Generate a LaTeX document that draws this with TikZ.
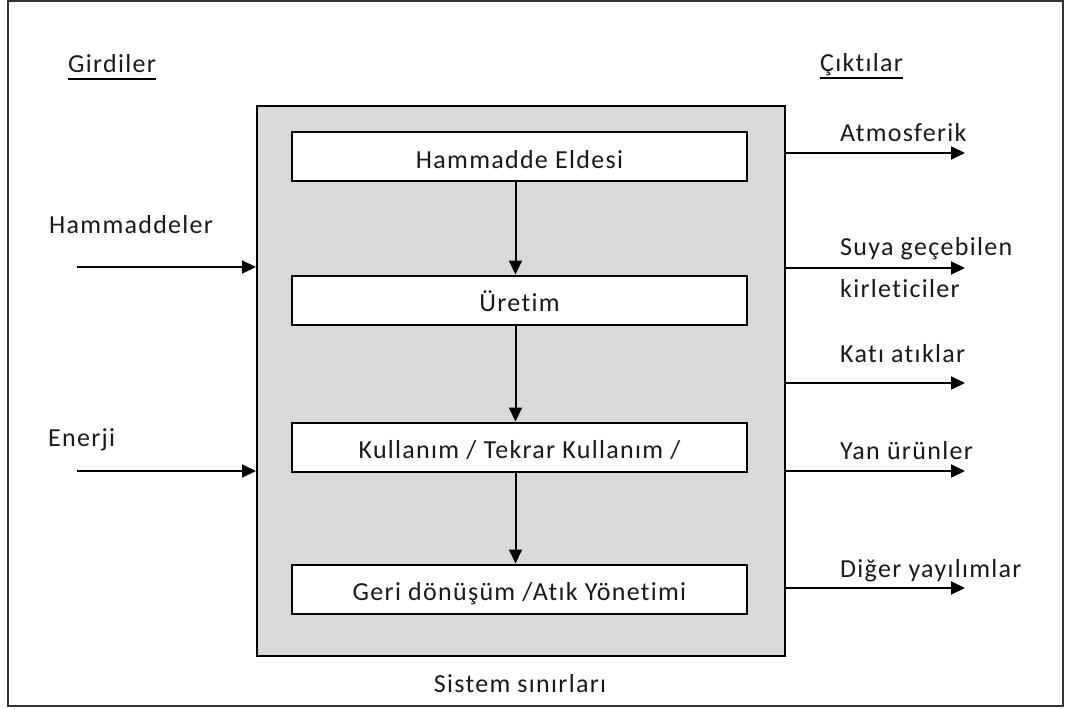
\documentclass[tikz,border=0pt]{standalone}
\usepackage{fontspec}
\setmainfont{Carlito}[LetterSpace=5,Ligatures={NoCommon}]
\usetikzlibrary{arrows.meta}
\begin{document}
\begin{tikzpicture}[x=1pt,y=-1pt,
  every node/.style={font=\fontsize{26}{29}\selectfont, inner sep=0pt, text=black!90},
  lbl/.style={anchor=base west},
  stage/.style={draw, line width=2pt, fill=white, minimum width=455pt, minimum height=49pt, text height=23pt, text depth=0pt},
  flow/.style={line width=2pt, -{Triangle[length=14pt,width=13pt]}},
  uline/.style={line width=1.6pt}]
\useasboundingbox (0,0) rectangle (1069,709);
\draw[line width=2pt, draw=black!80] (8,1) rectangle (1063,706);
\node[draw, line width=2pt, fill={rgb,255:red,217;green,217;blue,217}, minimum width=528pt, minimum height=550pt, anchor=north west] (sys) at (256,105) {};
% stages
\node[stage] (b1) at (519.5,156.5) {Hammadde Eldesi};
\node[stage] (b2) at (519.5,300) {Üretim};
\node[stage] (b3) at (519.5,447) {Kullanım / Tekrar Kullanım /};
\node[stage] (b4) at (519.5,589) {Geri dönüşüm /Atık Yönetimi};
\draw[flow] ([xshift=-4pt]b1.south) -- ([xshift=-4pt]b2.north);
\draw[flow] ([xshift=-4pt]b2.south) -- ([xshift=-4pt]b3.north);
\draw[flow] ([xshift=-4pt]b3.south) -- ([xshift=-4pt]b4.north);
% headings
\node[lbl] (gird) at (68,73) {Girdiler};
\draw[uline] ([yshift=-6pt]gird.base west) -- ([yshift=-6pt]gird.base east);
\node[lbl] (cikt) at (820,72) {Çıktılar};
\draw[uline] ([yshift=-6pt]cikt.base west) -- ([yshift=-6pt]cikt.base east);
% inputs
\node[lbl] (ham) at (49,233) {Hammaddeler};
\node[lbl] (ene) at (48,446) {Enerji};
\coordinate (inA) at (77,267);
\coordinate (inB) at (77,471);
\draw[flow] (inA) -- (inA -| sys.west);
\draw[flow] (inB) -- (inB -| sys.west);
% outputs
\coordinate (o1) at (965,153);
\coordinate (o2) at (965,268);
\coordinate (o3) at (965,383);
\coordinate (o4) at (965,471);
\coordinate (o5) at (965,588);
\draw[flow] (o1 -| sys.east) -- (o1);
\draw[flow] (o2 -| sys.east) -- (o2);
\draw[flow] (o3 -| sys.east) -- (o3);
\draw[flow] (o4 -| sys.east) -- (o4);
\draw[flow] (o5 -| sys.east) -- (o5);
\node[lbl] (t1) at (840,141) {Atmosferik};
\node[lbl] (t2) at (840,255) {Suya geçebilen};
\node[lbl] (t2b) at (840,297) {kirleticiler};
\node[lbl] (t3) at (840,362) {Katı atıklar};
\node[lbl] (t4) at (840,459) {Yan ürünler};
\node[lbl] (t5) at (840,577) {Diğer yayılımlar};
\node[anchor=base] (sinir) at (520,692) {Sistem sınırları};
\end{tikzpicture}
\end{document}
